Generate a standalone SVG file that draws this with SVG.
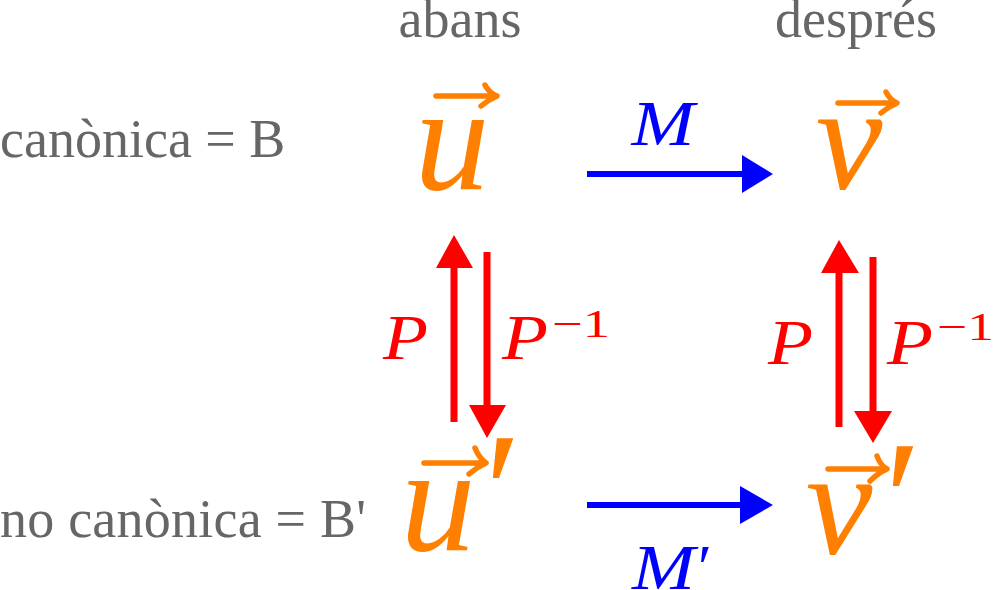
<svg xmlns="http://www.w3.org/2000/svg" width="994" height="590" viewBox="0 0 994 590">
<defs>
<style>
.lbl{font-family:"Liberation Serif","Times New Roman",serif;font-size:54px;fill:#666666}
.vec{font-family:"Liberation Serif","Times New Roman",serif;font-style:italic;font-size:150px;fill:#ff7f00}
.vbar{fill:none;stroke:#ff7f00;stroke-width:5.5;stroke-linecap:round;stroke-linejoin:round}
.m{font-family:"Liberation Serif","Times New Roman",serif;font-style:italic;font-size:64px;fill:#0000ff}
.p{font-family:"Liberation Serif","Times New Roman",serif;font-style:italic;font-size:64px;fill:#ff0000}
.sup{font-family:"Liberation Serif","Times New Roman",serif;font-size:40px;fill:#ff0000}
.blue{stroke:#0000ff;stroke-width:6;fill:none}
.red{stroke:#ff0000;stroke-width:7;fill:none}
.bh{fill:#0000ff}
.rh{fill:#ff0000}
.pr{font-family:"Liberation Serif","Times New Roman",serif;font-style:italic;font-size:170px;fill:#ff7f00}
</style>
</defs>
<g id="labels">
<text class="lbl" x="460" y="37" text-anchor="middle">abans</text>
<text class="lbl" x="856" y="37" text-anchor="middle">després</text>
<text class="lbl" x="0" y="157">canònica = B</text>
<text class="lbl" x="0" y="537" textLength="366" lengthAdjust="spacing">no canònica = B'</text>
</g>
<g id="node-u">
<text class="vec" x="452" y="189" text-anchor="middle">u</text>
<path class="vbar" d="M436,96 H496 M485,85 Q489,93 497,96 Q488,100 481,106"/>
</g>
<g id="node-v">
<text class="vec" x="849" y="189" text-anchor="middle">v</text>
<path class="vbar" d="M838,103 H896 M886,92 Q890,100 897,103 Q888,107 881,113"/>
</g>
<g id="node-u-prime">
<text class="vec" x="438" y="550" text-anchor="middle">u</text>
<path class="vbar" d="M424,463 H485 M475,448 Q479,458 486,463 Q477,467 469,474"/>
<text class="pr" x="474" y="549">′</text>
</g>
<g id="node-v-prime">
<text class="vec" x="839" y="554" text-anchor="middle">v</text>
<path class="vbar" d="M828,469 H886 M877,456 Q880,465 887,469 Q878,473 870,481"/>
<text class="pr" x="874" y="557">′</text>
</g>
<g id="connectors">
<line class="blue" x1="587" y1="174" x2="744" y2="174"/>
<polygon class="bh" points="742,155 773,174 742,193"/>
<text class="m" x="663" y="145" text-anchor="middle" textLength="63" lengthAdjust="spacingAndGlyphs">M</text>
<line class="blue" x1="587" y1="505" x2="742" y2="505"/>
<polygon class="bh" points="740,486 773,505 740,524"/>
<text class="m" x="632" y="589" textLength="63" lengthAdjust="spacingAndGlyphs">M</text>
<text class="m" x="694" y="589">′</text>
<line class="red" x1="454" y1="422" x2="454" y2="266"/>
<polygon class="rh" points="436,268 454,235 473,268"/>
<line class="red" x1="487" y1="252" x2="487" y2="407"/>
<polygon class="rh" points="469,405 487,438 506,405"/>
<text class="p" x="383" y="359" textLength="45" lengthAdjust="spacingAndGlyphs">P</text>
<text class="p" x="502" y="359" textLength="46" lengthAdjust="spacingAndGlyphs">P</text>
<text class="sup" x="552" y="337" textLength="58" lengthAdjust="spacingAndGlyphs">−1</text>
<line class="red" x1="839" y1="427" x2="839" y2="271"/>
<polygon class="rh" points="821,273 839,240 859,273"/>
<line class="red" x1="873" y1="257" x2="873" y2="413"/>
<polygon class="rh" points="854,411 873,443 892,411"/>
<text class="p" x="768" y="364" textLength="45" lengthAdjust="spacingAndGlyphs">P</text>
<text class="p" x="887" y="364" textLength="46" lengthAdjust="spacingAndGlyphs">P</text>
<text class="sup" x="937" y="340" textLength="57" lengthAdjust="spacingAndGlyphs">−1</text>
</g>
</svg>
